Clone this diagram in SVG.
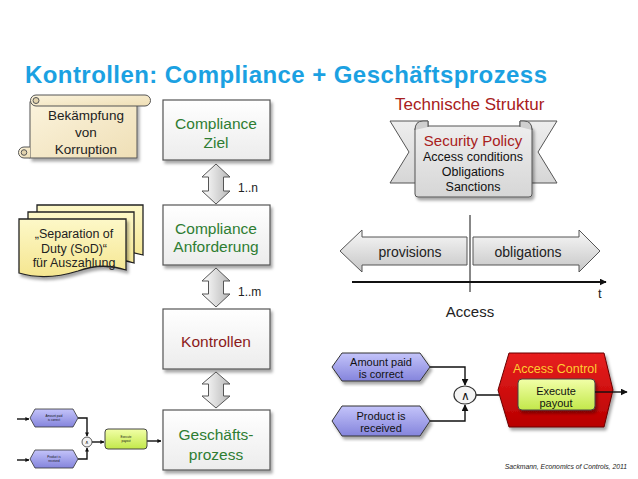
<svg xmlns="http://www.w3.org/2000/svg" width="638" height="479" viewBox="0 0 638 479">
<style>
text{font-family:"Liberation Sans",Arial,sans-serif}
.box{fill:url(#boxG);stroke:#555;stroke-width:1.2}
.green{fill:#2e7d32;font-size:15.5px;text-anchor:middle}
.dbl{fill:url(#dblG);stroke:#555;stroke-width:1}
.ln{fill:none;stroke:#111;stroke-width:1.4}
.hex{fill:url(#hexG);stroke:#333;stroke-width:1}
.hexs{fill:url(#hexG);stroke:#333;stroke-width:0.8}
.grn{fill:url(#grnG);stroke:#444;stroke-width:1}
.tl{font-size:11px;fill:#111;text-anchor:middle}
.tiny{font-size:3px;fill:#111;text-anchor:middle}
.page{fill:url(#pageG);stroke:#222;stroke-width:1.3}
.tarr{fill:url(#tG);stroke:#555;stroke-width:1}
</style>
<defs>
<linearGradient id="boxG" x1="0" y1="0" x2="0" y2="1"><stop offset="0" stop-color="#ffffff"/><stop offset="1" stop-color="#ececec"/></linearGradient>
<linearGradient id="dblG" x1="0" y1="0" x2="1" y2="0"><stop offset="0" stop-color="#ffffff"/><stop offset="1" stop-color="#b8b8b8"/></linearGradient>
<linearGradient id="hexG" x1="0" y1="0" x2="0" y2="1"><stop offset="0" stop-color="#c4c4fa"/><stop offset="1" stop-color="#8484dc"/></linearGradient>
<linearGradient id="grnG" x1="0" y1="0" x2="0" y2="1"><stop offset="0" stop-color="#f2ffa8"/><stop offset="1" stop-color="#c2e84a"/></linearGradient>
<linearGradient id="redG" x1="0" y1="0" x2="0" y2="1"><stop offset="0" stop-color="#e82020"/><stop offset="1" stop-color="#b80000"/></linearGradient>
<linearGradient id="pageG" x1="0" y1="0" x2="0" y2="1"><stop offset="0" stop-color="#fdf8c8"/><stop offset="1" stop-color="#f5e690"/></linearGradient>
<linearGradient id="parG" x1="0" y1="0" x2="1" y2="1"><stop offset="0" stop-color="#fbf3dc"/><stop offset="1" stop-color="#efdfb6"/></linearGradient>
<linearGradient id="banG" x1="0" y1="0" x2="0" y2="1"><stop offset="0" stop-color="#eeeeee"/><stop offset="1" stop-color="#d6d6d6"/></linearGradient>
<linearGradient id="tG" x1="0" y1="0" x2="0" y2="1"><stop offset="0" stop-color="#f8f8f8"/><stop offset="1" stop-color="#c6c6c6"/></linearGradient>
<filter id="sh" x="-20%" y="-20%" width="140%" height="140%"><feDropShadow dx="2" dy="3" stdDeviation="1.8" flood-color="#000" flood-opacity="0.35"/></filter>
<marker id="ah" viewBox="0 0 10 10" refX="9" refY="5" markerWidth="7" markerHeight="7" markerUnits="userSpaceOnUse" orient="auto"><path d="M0,0 L10,5 L0,10 Z" fill="#111"/></marker>
<marker id="ahs" viewBox="0 0 10 10" refX="9" refY="5" markerWidth="4" markerHeight="4" markerUnits="userSpaceOnUse" orient="auto"><path d="M0,0 L10,5 L0,10 Z" fill="#111"/></marker>
</defs>
<rect width="638" height="479" fill="#fff"/>
<text x="25" y="83" font-size="24" font-weight="bold" fill="#1ba1e2" textLength="522" lengthAdjust="spacing">Kontrollen: Compliance + Geschäftsprozess</text>

<g id="scroll">
<rect x="30" y="102" width="107" height="56" fill="url(#parG)" stroke="#555" filter="url(#sh)"/>
<path d="M36,95 L145,95 A5.5,5.5 0 0 1 145,106 L36,106 A5.5,5.5 0 0 1 36,95 Z" fill="url(#parG)" stroke="#555"/>
<circle cx="36" cy="100.5" r="3" fill="#e2d3ad" stroke="#555"/>
<path d="M30,147 L24,147 A5.5,5.5 0 0 0 24,158 L30,158" fill="url(#parG)" stroke="#555"/>
<circle cx="24" cy="152.5" r="2.8" fill="#e2d3ad" stroke="#555"/>
<text x="86" y="120" font-size="13.5" text-anchor="middle" fill="#222">Bekämpfung</text>
<text x="86" y="137" font-size="13.5" text-anchor="middle" fill="#222">von</text>
<text x="86" y="154" font-size="13.5" text-anchor="middle" fill="#222">Korruption</text>
</g>

<g id="sod">
<path class="page" d="M37,205 L143,205 L143,255 Q120,248 96,257 Q66,266 37,258 Z"/>
<path class="page" d="M28,212 L134,212 L134,263 Q110,255 86,264 Q56,273 28,266 Z"/>
<path class="page" d="M19,219 L126,219 L126,270 Q102,262 78,271 Q46,281 19,273 Z" filter="url(#sh)"/>
<text x="74" y="238" font-size="12.5" text-anchor="middle" fill="#222">„Separation of</text>
<text x="74" y="253" font-size="12.5" text-anchor="middle" fill="#222">Duty (SoD)“</text>
<text x="74" y="267" font-size="12.5" text-anchor="middle" fill="#222">für Auszahlung</text>
</g>

<g id="ziel">
<rect class="box" x="163" y="100" width="107" height="60" filter="url(#sh)"/>
<text class="green" x="216" y="129">Compliance</text>
<text class="green" x="216" y="148">Ziel</text>
</g>
<g id="anforderung">
<rect class="box" x="163" y="205" width="107" height="60" filter="url(#sh)"/>
<text class="green" x="216" y="234">Compliance</text>
<text class="green" x="216" y="252">Anforderung</text>
</g>
<g id="kontrollen">
<rect class="box" x="163" y="309" width="107" height="60" filter="url(#sh)"/>
<text x="216" y="347" font-size="15.5" text-anchor="middle" fill="#8b1a1a">Kontrollen</text>
</g>
<g id="geschaeft">
<rect class="box" x="163" y="410" width="107" height="60" filter="url(#sh)"/>
<text class="green" x="216" y="440">Geschäfts-</text>
<text class="green" x="216" y="460">prozess</text>
</g>

<g id="connectors">
<path class="dbl" d="M216,164 L230,177 L223.5,177 L223.5,191 L230,191 L216,204 L202,191 L208.5,191 L208.5,177 L202,177 Z"/>
<path class="dbl" d="M216,268 L230,281 L223.5,281 L223.5,294 L230,294 L216,307 L202,294 L208.5,294 L208.5,281 L202,281 Z"/>
<path class="dbl" d="M216,372 L230,384 L223.5,384 L223.5,396 L230,396 L216,408 L202,396 L208.5,396 L208.5,384 L202,384 Z"/>
<text x="238" y="192" font-size="12" fill="#222">1..n</text>
<text x="238" y="296" font-size="12" fill="#222">1..m</text>
<!-- small left process -->
<path class="ln" d="M17,419 H29" stroke-width="1.2" marker-end="url(#ahs)"/>
<path class="ln" d="M17,460 H29" stroke-width="1.2" marker-end="url(#ahs)"/>
<path class="ln" d="M78,418 H87 V436" stroke-width="1.2" marker-end="url(#ahs)"/>
<path class="ln" d="M78,459 H87 V448" stroke-width="1.2" marker-end="url(#ahs)"/>
<path class="ln" d="M92,442 H104" stroke-width="1.2" marker-end="url(#ahs)"/>
<path class="ln" d="M147,441 H161" stroke-width="1.2" marker-end="url(#ahs)"/>
<!-- right process -->
<path class="ln" d="M430,367 H465 V385" marker-end="url(#ah)"/>
<path class="ln" d="M430,421 H465 V405" marker-end="url(#ah)"/>
<path class="ln" d="M476,395 H518" marker-end="url(#ah)"/>
</g>

<g id="small-amount">
<polygon class="hexs" points="30,418 35,409 73,409 78,418 73,427 35,427"/>
<text class="tiny" x="54" y="417">Amount paid</text>
<text class="tiny" x="54" y="421">is correct</text>
</g>
<g id="small-product">
<polygon class="hexs" points="30,459 35,450 73,450 78,459 73,468 35,468"/>
<text class="tiny" x="54" y="458">Product is</text>
<text class="tiny" x="54" y="462">received</text>
</g>
<g id="small-and">
<circle cx="87" cy="442" r="5" fill="#f2f2f2" stroke="#333" stroke-width="0.8"/>
<text x="87" y="444" font-size="5" text-anchor="middle" fill="#111">∧</text>
</g>
<g id="small-execute">
<rect class="grn" x="105" y="429" width="42" height="20" rx="3" stroke-width="0.8"/>
<text class="tiny" x="126" y="438">Execute</text>
<text class="tiny" x="126" y="442">payout</text>
</g>

<g id="technische">
<text x="395" y="110" font-size="17" fill="#a82020">Technische Struktur</text>
<polygon points="390,121 428,121 428,183 390,183 409,152" fill="url(#banG)" stroke="#555"/>
<polygon points="520,121 557,121 538,152 557,183 520,183" fill="url(#banG)" stroke="#555"/>
<rect x="415" y="126" width="117" height="71" rx="3" fill="url(#banG)" stroke="#555" filter="url(#sh)"/>
<path d="M415,130 Q415,121 423,121 L428,121 L428,127" fill="#cfcfcf" stroke="#555"/>
<path d="M532,130 Q532,121 524,121 L520,121 L520,127" fill="#cfcfcf" stroke="#555"/>
<text x="473" y="146" font-size="15" text-anchor="middle" fill="#a82020">Security Policy</text>
<text x="473" y="161" font-size="12.5" text-anchor="middle" fill="#111">Access conditions</text>
<text x="473" y="176" font-size="12.5" text-anchor="middle" fill="#111">Obligations</text>
<text x="473" y="191" font-size="12.5" text-anchor="middle" fill="#111">Sanctions</text>
</g>

<g id="timeline">
<path class="tarr" d="M340,251 L362,230 L362,237 L467,237 L467,265 L362,265 L362,272 Z"/>
<path class="tarr" d="M473,237 L579,237 L579,230 L600,251 L579,272 L579,265 L473,265 Z"/>
<text x="410" y="257" font-size="14" text-anchor="middle" fill="#222">provisions</text>
<text x="528" y="257" font-size="14" text-anchor="middle" fill="#222">obligations</text>
<line x1="470" y1="215" x2="470" y2="292" stroke="#111" stroke-width="1"/>
<line x1="352" y1="282" x2="606" y2="282" stroke="#111" stroke-width="2" marker-end="url(#ah)"/>
<text x="598" y="298" font-size="13" fill="#222">t</text>
<text x="470" y="317" font-size="15" text-anchor="middle" fill="#222">Access</text>
</g>

<g id="amount">
<polygon class="hex" points="332,367 342,353 420,353 430,367 420,381 342,381" filter="url(#sh)"/>
<text class="tl" x="381" y="366">Amount paid</text>
<text class="tl" x="381" y="378">is correct</text>
</g>
<g id="product">
<polygon class="hex" points="332,421 342,406 420,406 430,421 420,436 342,436" filter="url(#sh)"/>
<text class="tl" x="381" y="420">Product  is</text>
<text class="tl" x="381" y="432">received</text>
</g>
<g id="and">
<ellipse cx="465" cy="395" rx="11" ry="9" fill="#f4f4f4" stroke="#333" stroke-width="1.2"/>
<text x="465" y="400" font-size="12" text-anchor="middle" fill="#111">∧</text>
</g>
<g id="access-control">
<polygon points="498,390 509,353 604,353 613,390 604,427 509,427" fill="url(#redG)" stroke="#6a0000" filter="url(#sh)"/>
<text x="555" y="373" font-size="12.5" text-anchor="middle" fill="#ffcc33">Access Control</text>
<rect class="grn" x="518" y="379" width="77" height="31" rx="4" filter="url(#sh)"/>
<text class="tl" x="556" y="395">Execute</text>
<text class="tl" x="556" y="407">payout</text>
<path class="ln" d="M595,392 H627" marker-end="url(#ah)"/>
</g>

<text x="627" y="469" font-size="6.8" font-style="italic" text-anchor="end" fill="#222">Sackmann,  Economics of Controls, 2011</text>
</svg>
